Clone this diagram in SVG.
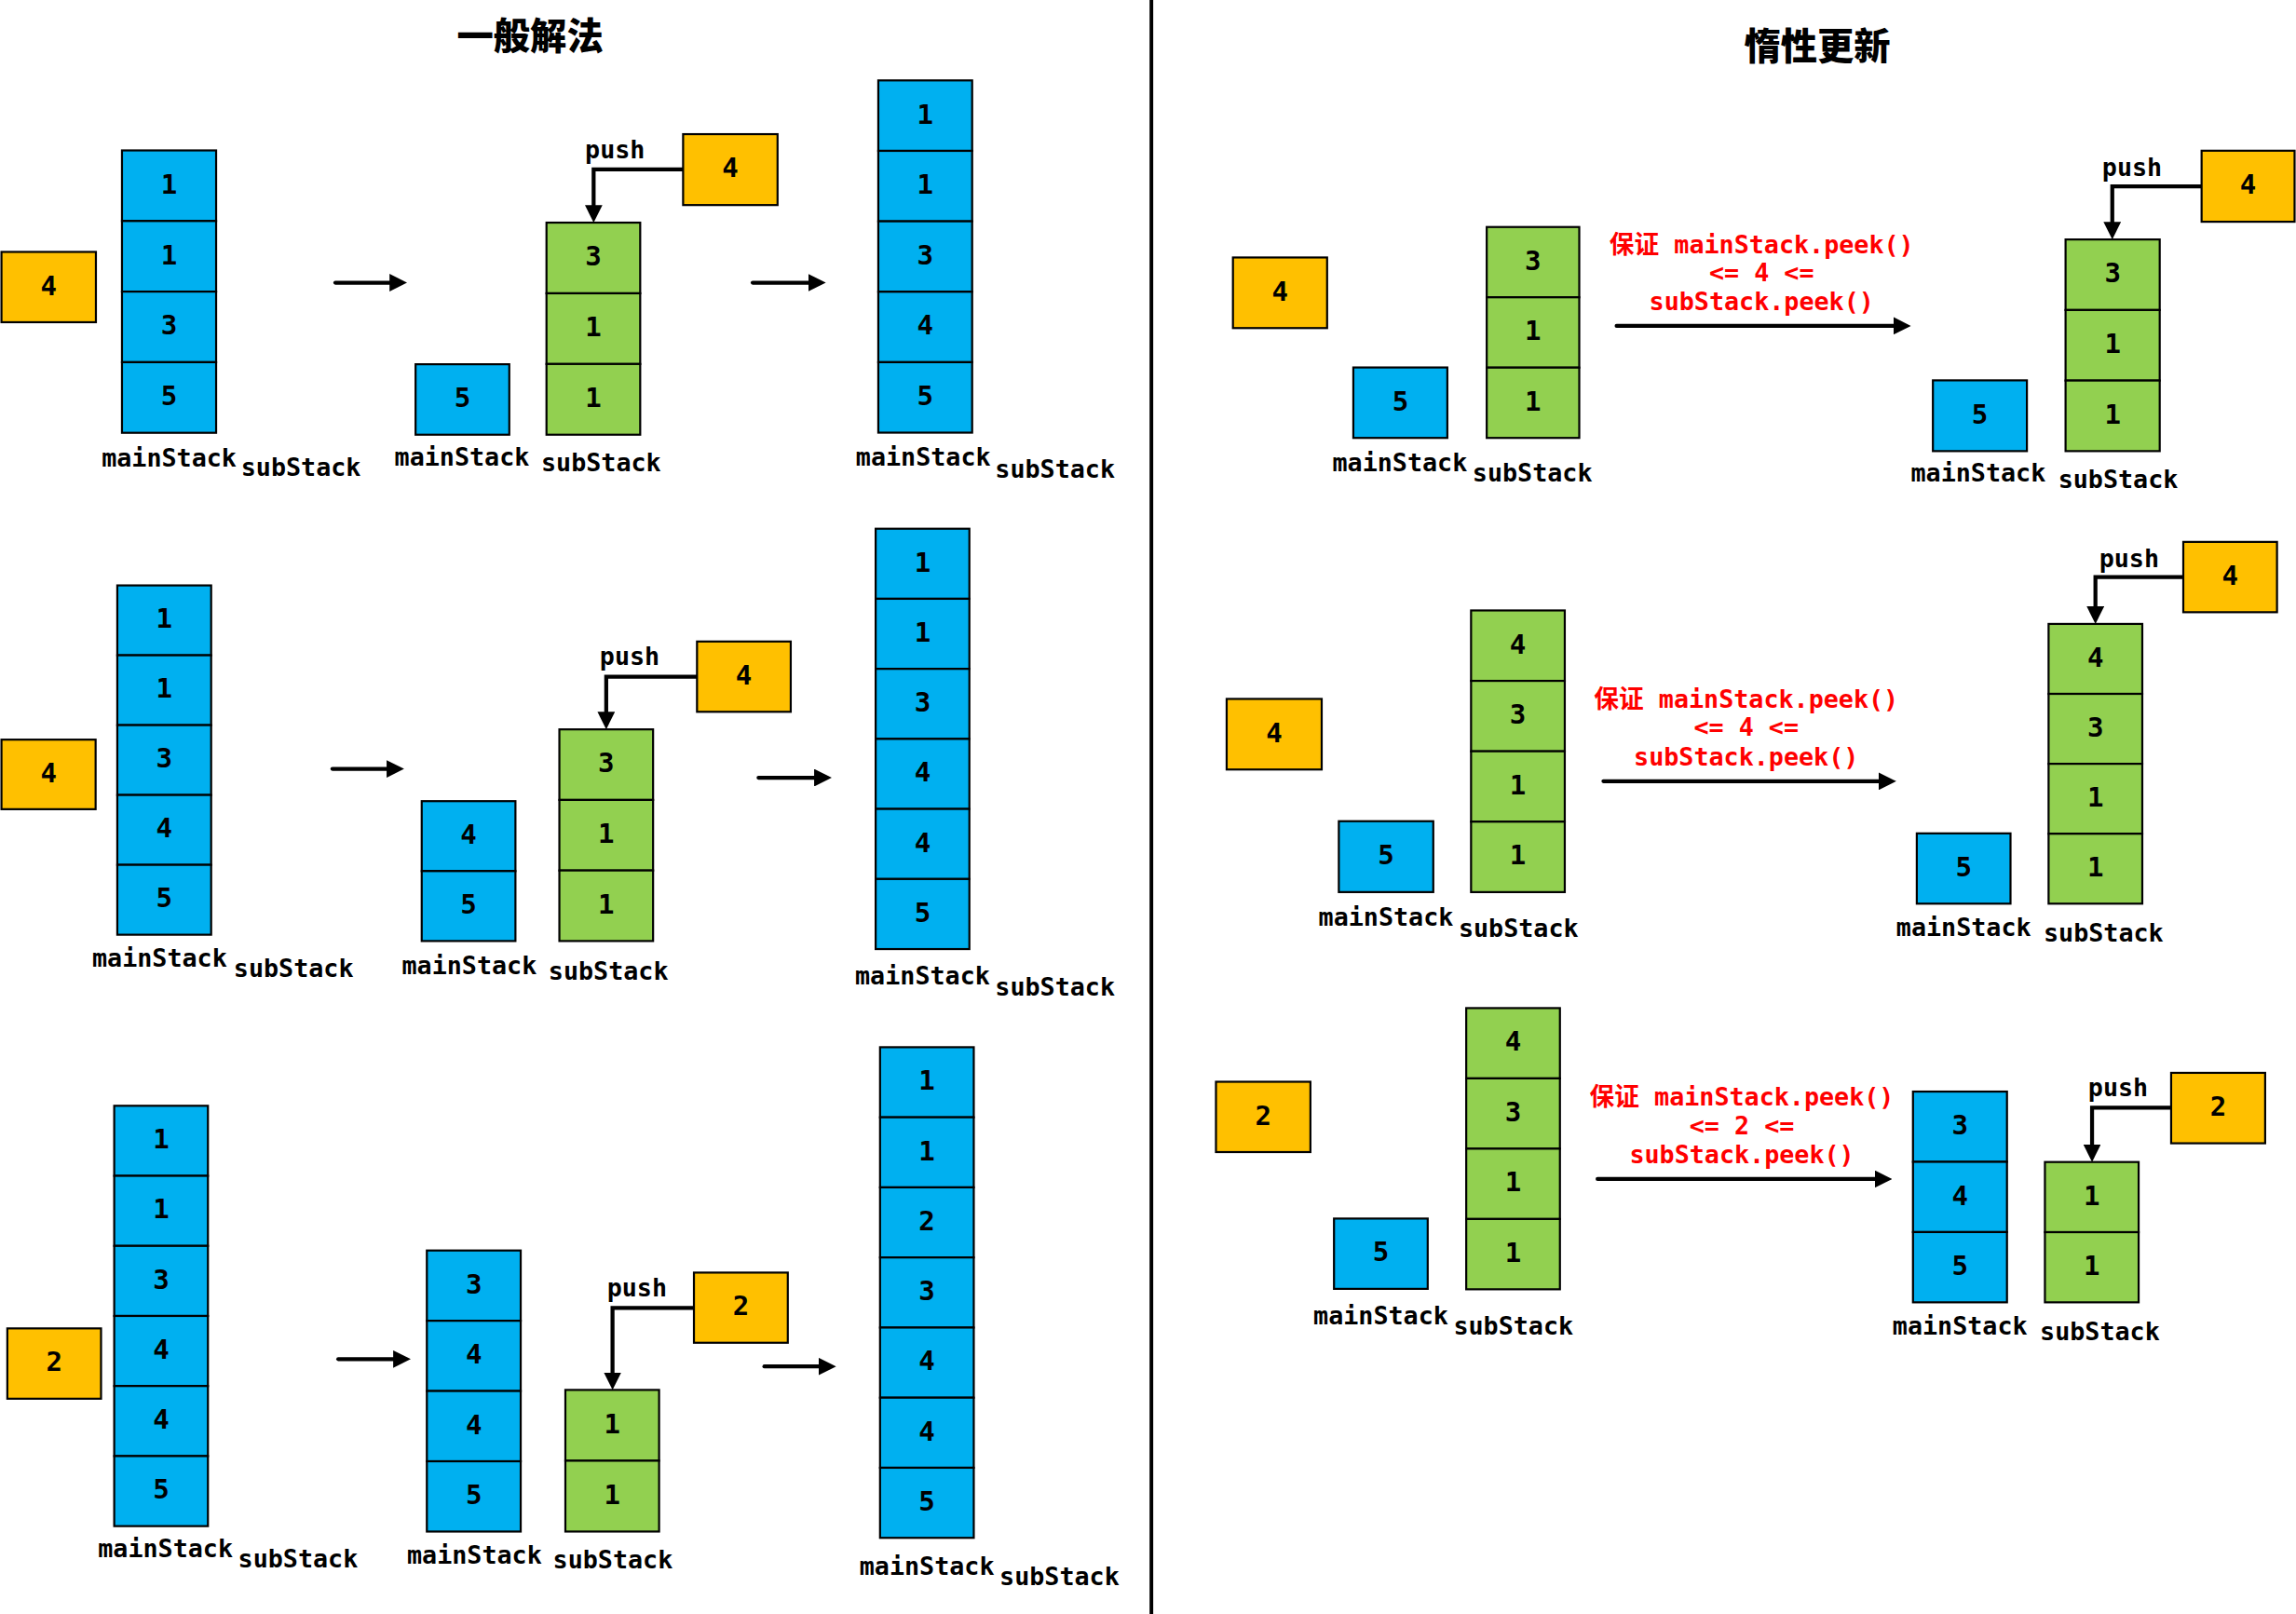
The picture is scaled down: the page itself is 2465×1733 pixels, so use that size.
<svg xmlns="http://www.w3.org/2000/svg" width="2465" height="1733" viewBox="0 0 2465 1733">
<defs>
<style>
.b{fill:#00B0F0;stroke:#000;stroke-width:1.4}
.g{fill:#92D050;stroke:#000;stroke-width:1.4}
.y{fill:#FFC000;stroke:#000;stroke-width:1.4}
text{font-family:"DejaVu Sans Mono","Noto Sans CJK SC",monospace;font-weight:bold}
.n{font-size:18.5px;text-anchor:middle;fill:#000;transform:translateY(-1.2px)}
.l{font-size:17px;text-anchor:middle;fill:#000}
.p{font-size:17px;text-anchor:middle;fill:#000}
.r{font-size:17px;text-anchor:middle;fill:#FF0000}
.t{font-family:"Noto Sans CJK SC",sans-serif;font-size:25px;font-weight:900;text-anchor:middle;fill:#000}
.c{fill:none;stroke:#000;stroke-width:2.7;stroke-linejoin:miter}
.a{fill:none;stroke:#000;stroke-width:2.7;stroke-linecap:round}
</style>
<marker id="ah" markerUnits="userSpaceOnUse" markerWidth="12" markerHeight="12" refX="1" refY="6" orient="auto" viewBox="0 0 12 12">
<path d="M0,0 L12,6 L0,12 Z" fill="#000"/>
</marker>
</defs>
<rect x="0" y="0" width="2465" height="1733" fill="#fff"/>
<g transform="scale(1.5721,1.5726)">
<g id="titles">
<text class="t" x="362" y="34">一般解法</text>
<text class="t" x="1241" y="41">惰性更新</text>
</g>
<g id="divider"><line x1="786.3" y1="0" x2="786.3" y2="1102" stroke="#000" stroke-width="2.5"/></g>

<!-- LEFT ROW 1 -->
<g id="L1-new"><rect class="y" x="1" y="172" width="64.5" height="48"/><text class="n" x="33.25" y="202.5">4</text></g>
<g id="L1-stack">
<rect class="b" x="83.3" y="102.7" width="64.3" height="48.2"/><text class="n" x="115.45" y="133.3">1</text>
<rect class="b" x="83.3" y="150.9" width="64.3" height="48.2"/><text class="n" x="115.45" y="181.5">1</text>
<rect class="b" x="83.3" y="199.1" width="64.3" height="48.2"/><text class="n" x="115.45" y="229.7">3</text>
<rect class="b" x="83.3" y="247.3" width="64.3" height="48.2"/><text class="n" x="115.45" y="277.9">5</text>
<text class="l" x="115.5" y="318.5">mainStack</text><text class="l" x="205.5" y="325">subStack</text>
</g>
<g id="L1-mid-main"><rect class="b" x="283.8" y="248.7" width="64" height="48.1"/><text class="n" x="315.8" y="279.25">5</text>
<text class="l" x="315.5" y="318">mainStack</text></g>
<g id="L1-mid-sub">
<rect class="g" x="373.2" y="152" width="64" height="48.27"/><text class="n" x="405.2" y="182.6">3</text>
<rect class="g" x="373.2" y="200.27" width="64" height="48.27"/><text class="n" x="405.2" y="230.9">1</text>
<rect class="g" x="373.2" y="248.53" width="64" height="48.27"/><text class="n" x="405.2" y="279.2">1</text>
<text class="l" x="410.5" y="322">subStack</text></g>
<g id="L1-push"><rect class="y" x="466.5" y="91.6" width="64.5" height="48.4"/><text class="n" x="498.75" y="122.3">4</text></g>
<g id="L1-result">
<rect class="b" x="599.8" y="54.9" width="64.1" height="48.1"/><text class="n" x="631.85" y="85.5">1</text>
<rect class="b" x="599.8" y="103" width="64.1" height="48.1"/><text class="n" x="631.85" y="133.6">1</text>
<rect class="b" x="599.8" y="151.1" width="64.1" height="48.1"/><text class="n" x="631.85" y="181.7">3</text>
<rect class="b" x="599.8" y="199.2" width="64.1" height="48.1"/><text class="n" x="631.85" y="229.8">4</text>
<rect class="b" x="599.8" y="247.3" width="64.1" height="48.1"/><text class="n" x="631.85" y="277.9">5</text>
<text class="l" x="630.5" y="318">mainStack</text><text class="l" x="720.5" y="326">subStack</text>
</g>

<!-- LEFT ROW 2 -->
<g id="L2-new"><rect class="y" x="1" y="505" width="64.3" height="47.5"/><text class="n" x="33.2" y="535.25">4</text></g>
<g id="L2-stack">
<rect class="b" x="80.1" y="399.7" width="64.1" height="47.7"/><text class="n" x="112.15" y="430.05">1</text>
<rect class="b" x="80.1" y="447.4" width="64.1" height="47.7"/><text class="n" x="112.15" y="477.75">1</text>
<rect class="b" x="80.1" y="495.1" width="64.1" height="47.7"/><text class="n" x="112.15" y="525.45">3</text>
<rect class="b" x="80.1" y="542.8" width="64.1" height="47.7"/><text class="n" x="112.15" y="573.15">4</text>
<rect class="b" x="80.1" y="590.5" width="64.1" height="47.7"/><text class="n" x="112.15" y="620.85">5</text>
<text class="l" x="109" y="660">mainStack</text><text class="l" x="200.5" y="667">subStack</text>
</g>
<g id="L2-mid-main">
<rect class="b" x="288" y="547" width="64" height="47.75"/><text class="n" x="320" y="577.4">4</text>
<rect class="b" x="288" y="594.75" width="64" height="47.75"/><text class="n" x="320" y="625.1">5</text>
<text class="l" x="320.5" y="665">mainStack</text></g>
<g id="L2-mid-sub">
<rect class="g" x="382" y="498" width="64" height="48.17"/><text class="n" x="414" y="528.6">3</text>
<rect class="g" x="382" y="546.17" width="64" height="48.17"/><text class="n" x="414" y="576.75">1</text>
<rect class="g" x="382" y="594.33" width="64" height="48.17"/><text class="n" x="414" y="624.9">1</text>
<text class="l" x="415.5" y="669">subStack</text></g>
<g id="L2-push"><rect class="y" x="476" y="438" width="64" height="48"/><text class="n" x="508" y="468.5">4</text></g>
<g id="L2-result">
<rect class="b" x="598" y="361" width="64" height="47.83"/><text class="n" x="630" y="391.4">1</text>
<rect class="b" x="598" y="408.83" width="64" height="47.83"/><text class="n" x="630" y="439.25">1</text>
<rect class="b" x="598" y="456.67" width="64" height="47.83"/><text class="n" x="630" y="487.1">3</text>
<rect class="b" x="598" y="504.5" width="64" height="47.83"/><text class="n" x="630" y="534.9">4</text>
<rect class="b" x="598" y="552.33" width="64" height="47.83"/><text class="n" x="630" y="582.75">4</text>
<rect class="b" x="598" y="600.17" width="64" height="47.83"/><text class="n" x="630" y="630.6">5</text>
<text class="l" x="630" y="672">mainStack</text><text class="l" x="720.5" y="680">subStack</text>
</g>

<!-- LEFT ROW 3 -->
<g id="L3-new"><rect class="y" x="5" y="907" width="64" height="48"/><text class="n" x="37" y="937.5">2</text></g>
<g id="L3-stack">
<rect class="b" x="78" y="755" width="64" height="47.83"/><text class="n" x="110" y="785.4">1</text>
<rect class="b" x="78" y="802.83" width="64" height="47.83"/><text class="n" x="110" y="833.25">1</text>
<rect class="b" x="78" y="850.67" width="64" height="47.83"/><text class="n" x="110" y="881.1">3</text>
<rect class="b" x="78" y="898.5" width="64" height="47.83"/><text class="n" x="110" y="928.9">4</text>
<rect class="b" x="78" y="946.33" width="64" height="47.83"/><text class="n" x="110" y="976.75">4</text>
<rect class="b" x="78" y="994.17" width="64" height="47.83"/><text class="n" x="110" y="1024.6">5</text>
<text class="l" x="113" y="1063">mainStack</text><text class="l" x="203.5" y="1070">subStack</text>
</g>
<g id="L3-mid-main">
<rect class="b" x="291.5" y="853.8" width="64.1" height="47.98"/><text class="n" x="323.55" y="884.3">3</text>
<rect class="b" x="291.5" y="901.78" width="64.1" height="47.98"/><text class="n" x="323.55" y="932.3">4</text>
<rect class="b" x="291.5" y="949.75" width="64.1" height="47.98"/><text class="n" x="323.55" y="980.2">4</text>
<rect class="b" x="291.5" y="997.73" width="64.1" height="47.98"/><text class="n" x="323.55" y="1028.2">5</text>
<text class="l" x="324" y="1067.5">mainStack</text></g>
<g id="L3-mid-sub">
<rect class="g" x="386.1" y="949" width="64" height="48.35"/><text class="n" x="418.1" y="979.7">1</text>
<rect class="g" x="386.1" y="997.35" width="64" height="48.35"/><text class="n" x="418.1" y="1028">1</text>
<text class="l" x="418.5" y="1071">subStack</text></g>
<g id="L3-push"><rect class="y" x="473.9" y="868.9" width="64.1" height="47.9"/><text class="n" x="505.95" y="899.35">2</text></g>
<g id="L3-result">
<rect class="b" x="601" y="715" width="64" height="47.86"/><text class="n" x="633" y="745.4">1</text>
<rect class="b" x="601" y="762.86" width="64" height="47.86"/><text class="n" x="633" y="793.3">1</text>
<rect class="b" x="601" y="810.71" width="64" height="47.86"/><text class="n" x="633" y="841.1">2</text>
<rect class="b" x="601" y="858.57" width="64" height="47.86"/><text class="n" x="633" y="889">3</text>
<rect class="b" x="601" y="906.43" width="64" height="47.86"/><text class="n" x="633" y="936.9">4</text>
<rect class="b" x="601" y="954.29" width="64" height="47.86"/><text class="n" x="633" y="984.7">4</text>
<rect class="b" x="601" y="1002.14" width="64" height="47.86"/><text class="n" x="633" y="1032.6">5</text>
<text class="l" x="633" y="1075">mainStack</text><text class="l" x="723.5" y="1082">subStack</text>
</g>

<!-- RIGHT ROW 1 -->
<g id="R1-new"><rect class="y" x="842" y="175.8" width="64.3" height="48.2"/><text class="n" x="874.15" y="206.4">4</text></g>
<g id="R1-main"><rect class="b" x="924.2" y="250.9" width="64.2" height="48.1"/><text class="n" x="956.3" y="281.45">5</text>
<text class="l" x="956" y="322">mainStack</text></g>
<g id="R1-sub">
<rect class="g" x="1015.3" y="155" width="63.2" height="48"/><text class="n" x="1046.9" y="185.5">3</text>
<rect class="g" x="1015.3" y="203" width="63.2" height="48"/><text class="n" x="1046.9" y="233.5">1</text>
<rect class="g" x="1015.3" y="251" width="63.2" height="48"/><text class="n" x="1046.9" y="281.5">1</text>
<text class="l" x="1046.5" y="329">subStack</text></g>
<g id="R1-cond">
<text class="r" x="1203" y="172.8">保证 mainStack.peek()</text>
<text class="r" x="1203" y="192">&lt;= 4 &lt;=</text>
<text class="r" x="1203" y="211.6">subStack.peek()</text>
</g>
<g id="R1-res-main"><rect class="b" x="1320" y="259.7" width="64.2" height="48.3"/><text class="n" x="1352.1" y="290.35">5</text>
<text class="l" x="1351" y="329">mainStack</text></g>
<g id="R1-res-sub">
<rect class="g" x="1410.6" y="163.5" width="64.3" height="48.17"/><text class="n" x="1442.75" y="194.1">3</text>
<rect class="g" x="1410.6" y="211.67" width="64.3" height="48.17"/><text class="n" x="1442.75" y="242.25">1</text>
<rect class="g" x="1410.6" y="259.83" width="64.3" height="48.17"/><text class="n" x="1442.75" y="290.4">1</text>
<text class="l" x="1446.5" y="333">subStack</text></g>
<g id="R1-push"><rect class="y" x="1503.5" y="102.9" width="63.5" height="48.5"/><text class="n" x="1535.25" y="133.65">4</text></g>

<!-- RIGHT ROW 2 -->
<g id="R2-new"><rect class="y" x="837.7" y="477.2" width="64.9" height="48.2"/><text class="n" x="870.15" y="507.8">4</text></g>
<g id="R2-main"><rect class="b" x="914.3" y="560.7" width="64.5" height="48.4"/><text class="n" x="946.55" y="591.4">5</text>
<text class="l" x="946.5" y="632">mainStack</text></g>
<g id="R2-sub">
<rect class="g" x="1004.6" y="416.8" width="64" height="48.08"/><text class="n" x="1036.6" y="447.3">4</text>
<rect class="g" x="1004.6" y="464.88" width="64" height="48.08"/><text class="n" x="1036.6" y="495.4">3</text>
<rect class="g" x="1004.6" y="512.95" width="64" height="48.08"/><text class="n" x="1036.6" y="543.5">1</text>
<rect class="g" x="1004.6" y="561.03" width="64" height="48.08"/><text class="n" x="1036.6" y="591.6">1</text>
<text class="l" x="1037" y="639.5">subStack</text></g>
<g id="R2-cond">
<text class="r" x="1192.5" y="483">保证 mainStack.peek()</text>
<text class="r" x="1192.5" y="502.5">&lt;= 4 &lt;=</text>
<text class="r" x="1192.5" y="523">subStack.peek()</text>
</g>
<g id="R2-res-main"><rect class="b" x="1309" y="569" width="64" height="48"/><text class="n" x="1341" y="599.5">5</text>
<text class="l" x="1341" y="639">mainStack</text></g>
<g id="R2-res-sub">
<rect class="g" x="1399" y="426" width="64" height="47.75"/><text class="n" x="1431" y="456.4">4</text>
<rect class="g" x="1399" y="473.75" width="64" height="47.75"/><text class="n" x="1431" y="504.1">3</text>
<rect class="g" x="1399" y="521.5" width="64" height="47.75"/><text class="n" x="1431" y="551.9">1</text>
<rect class="g" x="1399" y="569.25" width="64" height="47.75"/><text class="n" x="1431" y="599.6">1</text>
<text class="l" x="1436.5" y="643">subStack</text></g>
<g id="R2-push"><rect class="y" x="1491" y="370" width="64" height="48"/><text class="n" x="1523" y="400.5">4</text></g>

<!-- RIGHT ROW 3 -->
<g id="R3-new"><rect class="y" x="830.4" y="738.6" width="64.5" height="48"/><text class="n" x="862.65" y="769.1">2</text></g>
<g id="R3-main"><rect class="b" x="911" y="832" width="64" height="48"/><text class="n" x="943" y="862.5">5</text>
<text class="l" x="943" y="904">mainStack</text></g>
<g id="R3-sub">
<rect class="g" x="1001.3" y="688.3" width="64" height="48"/><text class="n" x="1033.3" y="718.8">4</text>
<rect class="g" x="1001.3" y="736.3" width="64" height="48"/><text class="n" x="1033.3" y="766.8">3</text>
<rect class="g" x="1001.3" y="784.3" width="64" height="48"/><text class="n" x="1033.3" y="814.8">1</text>
<rect class="g" x="1001.3" y="832.3" width="64" height="48"/><text class="n" x="1033.3" y="862.8">1</text>
<text class="l" x="1033.5" y="911">subStack</text></g>
<g id="R3-cond">
<text class="r" x="1189.5" y="754.5">保证 mainStack.peek()</text>
<text class="r" x="1189.5" y="774.3">&lt;= 2 &lt;=</text>
<text class="r" x="1189.5" y="794.3">subStack.peek()</text>
</g>
<g id="R3-res-main">
<rect class="b" x="1306.4" y="745.3" width="64.2" height="47.97"/><text class="n" x="1338.5" y="775.8">3</text>
<rect class="b" x="1306.4" y="793.27" width="64.2" height="47.97"/><text class="n" x="1338.5" y="823.75">4</text>
<rect class="b" x="1306.4" y="841.23" width="64.2" height="47.97"/><text class="n" x="1338.5" y="871.7">5</text>
<text class="l" x="1338.5" y="911">mainStack</text></g>
<g id="R3-res-sub">
<rect class="g" x="1396.5" y="793.4" width="64" height="47.9"/><text class="n" x="1428.5" y="823.85">1</text>
<rect class="g" x="1396.5" y="841.3" width="64" height="47.9"/><text class="n" x="1428.5" y="871.75">1</text>
<text class="l" x="1434" y="915">subStack</text></g>
<g id="R3-push"><rect class="y" x="1482.7" y="732.5" width="64.2" height="48.1"/><text class="n" x="1514.8" y="763.05">2</text></g>

<g id="connectors">
<path class="a" d="M229,193 H267" marker-end="url(#ah)"/>
<path class="a" d="M514,193 H553" marker-end="url(#ah)"/>
<path class="a" d="M227,525 H265" marker-end="url(#ah)"/>
<path class="a" d="M518,531 H557" marker-end="url(#ah)"/>
<path class="a" d="M231,928 H269.5" marker-end="url(#ah)"/>
<path class="a" d="M522,933 H560" marker-end="url(#ah)"/>
<path class="a" d="M1104,222.5 H1294" marker-end="url(#ah)"/>
<path class="a" d="M1095,533.4 H1284" marker-end="url(#ah)"/>
<path class="a" d="M1091,805 H1281.2" marker-end="url(#ah)"/>
<path class="c" d="M466.5,115.6 H405.4 V141" marker-end="url(#ah)"/>
<path class="c" d="M476,462 H414 V487" marker-end="url(#ah)"/>
<path class="c" d="M473.9,893.1 H418.3 V938" marker-end="url(#ah)"/>
<path class="c" d="M1503.5,127.3 H1442.5 V152.5" marker-end="url(#ah)"/>
<path class="c" d="M1491,394 H1431 V415" marker-end="url(#ah)"/>
<path class="c" d="M1482.7,756.3 H1428.7 V782.4" marker-end="url(#ah)"/>
</g>
<g id="push-labels">
<text class="p" x="420" y="108">push</text>
<text class="p" x="430" y="454">push</text>
<text class="p" x="435" y="885">push</text>
<text class="p" x="1456" y="120">push</text>
<text class="p" x="1454" y="387">push</text>
<text class="p" x="1446.5" y="748.5">push</text>
</g>
</g>
</svg>
